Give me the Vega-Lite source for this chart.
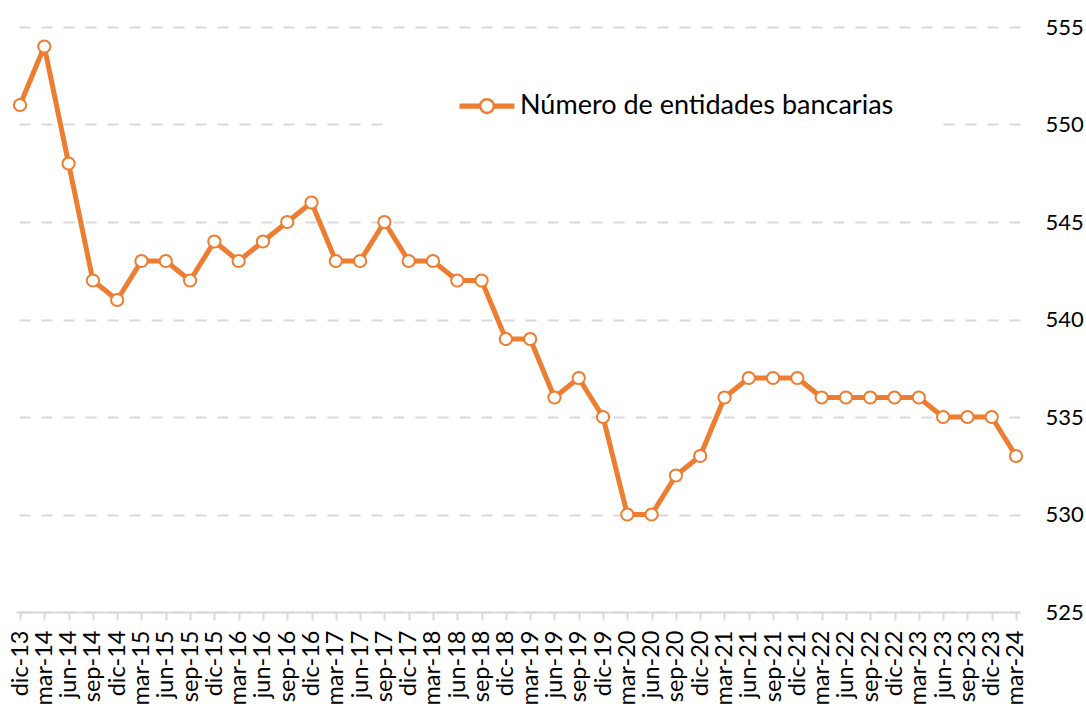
{
  "$schema": "https://vega.github.io/schema/vega-lite/v6.json",
  "autosize": "none",
  "width": 1004,
  "height": 585,
  "padding": {"left": 16, "top": 27, "right": 66, "bottom": 92},
  "background": "white",
  "config": {"view": {"stroke": null}, "font": "Lato"},
  "data": {"values": [
    {"t": "dic-13", "v": 551}, {"t": "mar-14", "v": 554}, {"t": "jun-14", "v": 548}, {"t": "sep-14", "v": 542},
    {"t": "dic-14", "v": 541}, {"t": "mar-15", "v": 543}, {"t": "jun-15", "v": 543}, {"t": "sep-15", "v": 542},
    {"t": "dic-15", "v": 544}, {"t": "mar-16", "v": 543}, {"t": "jun-16", "v": 544}, {"t": "sep-16", "v": 545},
    {"t": "dic-16", "v": 546}, {"t": "mar-17", "v": 543}, {"t": "jun-17", "v": 543}, {"t": "sep-17", "v": 545},
    {"t": "dic-17", "v": 543}, {"t": "mar-18", "v": 543}, {"t": "jun-18", "v": 542}, {"t": "sep-18", "v": 542},
    {"t": "dic-18", "v": 539}, {"t": "mar-19", "v": 539}, {"t": "jun-19", "v": 536}, {"t": "sep-19", "v": 537},
    {"t": "dic-19", "v": 535}, {"t": "mar-20", "v": 530}, {"t": "jun-20", "v": 530}, {"t": "sep-20", "v": 532},
    {"t": "dic-20", "v": 533}, {"t": "mar-21", "v": 536}, {"t": "jun-21", "v": 537}, {"t": "sep-21", "v": 537},
    {"t": "dic-21", "v": 537}, {"t": "mar-22", "v": 536}, {"t": "jun-22", "v": 536}, {"t": "sep-22", "v": 536},
    {"t": "dic-22", "v": 536}, {"t": "mar-23", "v": 536}, {"t": "jun-23", "v": 535}, {"t": "sep-23", "v": 535},
    {"t": "dic-23", "v": 535}, {"t": "mar-24", "v": 533}
  ]},
  "encoding": {
    "x": {
      "field": "t", "type": "ordinal", "sort": null,
      "scale": {"type": "point", "padding": 0.165},
      "axis": {
        "title": null, "labelAngle": -90, "labelFont": "Lato", "labelFontSize": 23.5, "labelColor": "#000000",
        "domainColor": "#d9d9d9", "domainWidth": 2, "tickColor": "#d9d9d9", "tickWidth": 2, "tickSize": 8,
        "labelPadding": 10, "grid": false, "labelOverlap": false, "zindex": 1
      }
    },
    "y": {
      "field": "v", "type": "quantitative",
      "scale": {"domain": [525, 555], "nice": false, "zero": false},
      "axis": {
        "orient": "right", "title": null, "values": [525, 530, 535, 540, 545, 550, 555],
        "labelFont": "Lato", "labelFontSize": 22, "labelColor": "#000000", "labelPadding": 25,
        "domain": false, "ticks": false, "grid": true, "gridColor": "#d9d9d9", "gridWidth": 2,
        "gridDash": [11, 11]
      }
    }
  },
  "layer": [
    {
      "mark": {"type": "line", "strokeWidth": 5, "strokeJoin": "round"},
      "encoding": {
        "color": {
          "datum": "Número de entidades bancarias",
          "scale": {"range": ["#ED7D31"]},
          "legend": {
            "title": null, "orient": "none", "legendX": 369, "legendY": 10,
            "padding": 40, "fillColor": "white", "strokeColor": null,
            "symbolOffset": 33,
            "labelFont": "Lato", "labelFontSize": 27, "labelColor": "#000000", "labelOffset": 4, "labelLimit": 700,
            "symbolSize": 3025,
            "symbolType": "M-1,-0.05H-0.25M-1,0H-0.25M-1,0.05H-0.25M0.25,-0.05H1M0.25,0H1M0.25,0.05H1M0.25,0A0.25,0.25 0 1,1 -0.25,0A0.25,0.25 0 1,1 0.25,0",
            "symbolStrokeWidth": 2.5,
            "symbolFillColor": "white",
            "symbolStrokeColor": "#ED7D31",
            "encode": {"symbols": {"update": {"fill": {"value": "white"}, "stroke": {"value": "#ED7D31"}, "strokeWidth": {"value": 2.5}}}}
          }
        }
      }
    },
    {
      "mark": {"type": "point", "shape": "circle", "filled": true, "fill": "white", "stroke": "#ED7D31", "strokeWidth": 2, "size": 150, "opacity": 1}
    }
  ]
}
